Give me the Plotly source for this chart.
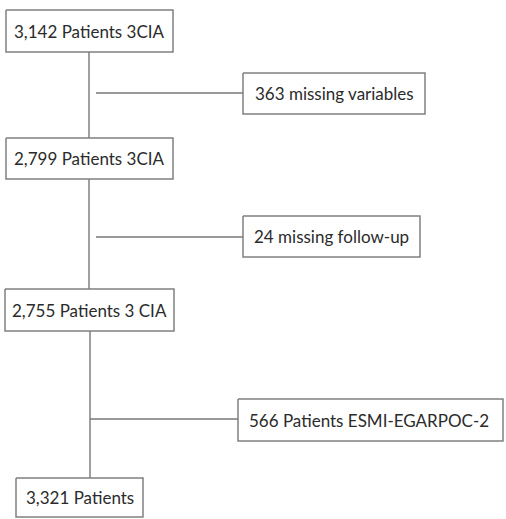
import plotly.graph_objects as go

# Flow-chart content
labels = [
    "3,142 Patients 3CIA",
    "363 missing variables",
    "2,799 Patients 3CIA",
    "24 missing follow-up",
    "2,755 Patients 3 CIA",
    "566 Patients ESMI-EGARPOC-2",
    "3,321 Patients",
]

# Layout geometry (pixel-like units): x0, x1, y0, y1
boxes = [
    (6, 173, 10, 52),
    (243, 425, 73, 114),
    (6, 173, 138, 179),
    (243, 420, 216, 257),
    (5, 174, 289, 331),
    (238, 503, 399, 441),
    (16, 143, 478, 517),
]
text_anchor = ["center", "center", "center", "center", "center", "left", "center"]

# connectors: (x0, y0, x1, y1)
connectors = [
    (89, 52, 89, 138),
    (96, 93, 243, 93),
    (89, 179, 89, 289),
    (96, 237, 243, 237),
    (90, 331, 90, 478),
    (90, 419, 238, 419),
]

FONT = "Lato, Roboto, sans-serif"
FSIZE = 17
fig = go.Figure()

for (x0, y0, x1, y1) in connectors:
    fig.add_trace(go.Scatter(x=[x0, x1], y=[y0, y1], mode="lines",
                             line=dict(color="#777777", width=1.4),
                             hoverinfo="skip", showlegend=False))

for (x0, x1, y0, y1) in boxes:
    fig.add_trace(go.Scatter(x=[x0, x1, x1, x0, x0], y=[y0, y0, y1, y1, y0],
                             mode="lines", fill="toself", fillcolor="white",
                             line=dict(color="#808080", width=1.5),
                             hoverinfo="skip", showlegend=False))

for lab, (x0, x1, y0, y1), anc in zip(labels, boxes, text_anchor):
    if anc == "left":
        fig.add_annotation(x=x0 + 9, y=(y0 + y1) / 2, text=lab, showarrow=False,
                           xanchor="left", yanchor="middle",
                           font=dict(family=FONT, size=FSIZE, color="#2b2b2b"))
    else:
        fig.add_annotation(x=(x0 + x1) / 2, y=(y0 + y1) / 2, text=lab, showarrow=False,
                           xanchor="center", yanchor="middle",
                           font=dict(family=FONT, size=FSIZE, color="#2b2b2b"))

fig.update_layout(
    width=506, height=519,
    margin=dict(l=0, r=0, t=0, b=0),
    paper_bgcolor="white", plot_bgcolor="white",
    xaxis=dict(range=[0, 506], visible=False, fixedrange=True),
    yaxis=dict(range=[519, 0], visible=False, fixedrange=True),
    showlegend=False,
)

fig.write_html("out.html", config={"displayModeBar": False},
               post_script="document.body.style.margin='0';document.body.style.overflow='hidden';")
